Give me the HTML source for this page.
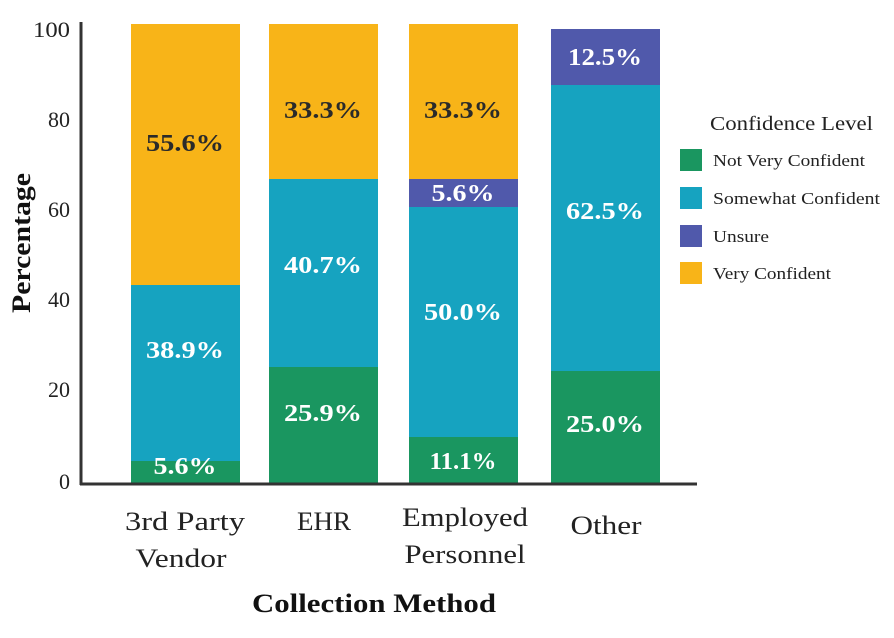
<!DOCTYPE html><html><head><style>body{margin:0;background:#fff}</style></head><body>
<svg width="894" height="633" xmlns="http://www.w3.org/2000/svg" font-family="Liberation Serif, serif">
<g>
<rect x="131" y="24" width="109" height="261" fill="#f8b418"/>
<rect x="131" y="285" width="109" height="176" fill="#16a3c0"/>
<rect x="131" y="461" width="109" height="24" fill="#1a9660"/>
<rect x="269" y="24" width="109" height="155" fill="#f8b418"/>
<rect x="269" y="179" width="109" height="188" fill="#16a3c0"/>
<rect x="269" y="367" width="109" height="118" fill="#1a9660"/>
<rect x="409" y="24" width="109" height="155" fill="#f8b418"/>
<rect x="409" y="179" width="109" height="28" fill="#5059ab"/>
<rect x="409" y="207" width="109" height="230" fill="#16a3c0"/>
<rect x="409" y="437" width="109" height="48" fill="#1a9660"/>
<rect x="551" y="29" width="109" height="56" fill="#5059ab"/>
<rect x="551" y="85" width="109" height="286" fill="#16a3c0"/>
<rect x="551" y="371" width="109" height="114" fill="#1a9660"/>
</g>
<line x1="81" y1="22" x2="81" y2="485" stroke="#333" stroke-width="3"/>
<line x1="80" y1="484" x2="697" y2="484" stroke="#333" stroke-width="3"/>
<g font-size="22" text-anchor="end" fill="#222">
<text x="70" y="37" textLength="37" lengthAdjust="spacingAndGlyphs">100</text><text x="70" y="127">80</text><text x="70" y="217">60</text>
<text x="70" y="307">40</text><text x="70" y="397">20</text><text x="70" y="489">0</text>
</g>
<g font-size="24" font-weight="bold" text-anchor="middle" lengthAdjust="spacingAndGlyphs">
<text x="185" y="151" fill="#2a2a2a" textLength="78" lengthAdjust="spacingAndGlyphs">55.6%</text>
<text x="185" y="358" fill="#fff" textLength="78" lengthAdjust="spacingAndGlyphs">38.9%</text>
<text x="185" y="474" fill="#fff" textLength="63" lengthAdjust="spacingAndGlyphs">5.6%</text>
<text x="323" y="118" fill="#2a2a2a" textLength="78" lengthAdjust="spacingAndGlyphs">33.3%</text>
<text x="323" y="273" fill="#fff" textLength="78" lengthAdjust="spacingAndGlyphs">40.7%</text>
<text x="323" y="421" fill="#fff" textLength="78" lengthAdjust="spacingAndGlyphs">25.9%</text>
<text x="463" y="118" fill="#2a2a2a" textLength="78" lengthAdjust="spacingAndGlyphs">33.3%</text>
<text x="463" y="201" fill="#fff" textLength="63" lengthAdjust="spacingAndGlyphs">5.6%</text>
<text x="463" y="320" fill="#fff" textLength="78" lengthAdjust="spacingAndGlyphs">50.0%</text>
<text x="463" y="469" fill="#fff" textLength="67" lengthAdjust="spacingAndGlyphs">11.1%</text>
<text x="605" y="65" fill="#fff" textLength="74" lengthAdjust="spacingAndGlyphs">12.5%</text>
<text x="605" y="219" fill="#fff" textLength="78" lengthAdjust="spacingAndGlyphs">62.5%</text>
<text x="605" y="432" fill="#fff" textLength="78" lengthAdjust="spacingAndGlyphs">25.0%</text>
</g>
<g font-size="26" text-anchor="middle" fill="#222">
<text x="185" y="530" textLength="120" lengthAdjust="spacingAndGlyphs">3rd Party</text><text x="181" y="567" textLength="91" lengthAdjust="spacingAndGlyphs">Vendor</text>
<text x="324" y="530" textLength="54" lengthAdjust="spacingAndGlyphs">EHR</text>
<text x="465" y="526" textLength="126" lengthAdjust="spacingAndGlyphs">Employed</text><text x="465" y="563" textLength="121" lengthAdjust="spacingAndGlyphs">Personnel</text>
<text x="606" y="534" textLength="71" lengthAdjust="spacingAndGlyphs">Other</text>
</g>
<text x="374" y="612" font-size="26" font-weight="bold" text-anchor="middle" fill="#111" textLength="244" lengthAdjust="spacingAndGlyphs">Collection Method</text>
<text transform="translate(30,243) rotate(-90)" font-size="26" font-weight="bold" text-anchor="middle" fill="#111" textLength="140" lengthAdjust="spacingAndGlyphs">Percentage</text>
<text x="710" y="130" font-size="20" fill="#222" textLength="163" lengthAdjust="spacingAndGlyphs">Confidence Level</text>
<g font-size="17" fill="#222">
<rect x="680" y="149" width="22" height="22" fill="#1a9660"/><text x="713" y="166" textLength="152" lengthAdjust="spacingAndGlyphs">Not Very Confident</text>
<rect x="680" y="187" width="22" height="22" fill="#16a3c0"/><text x="713" y="204" textLength="167" lengthAdjust="spacingAndGlyphs">Somewhat Confident</text>
<rect x="680" y="225" width="22" height="22" fill="#5059ab"/><text x="713" y="242" textLength="56" lengthAdjust="spacingAndGlyphs">Unsure</text>
<rect x="680" y="262" width="22" height="22" fill="#f8b418"/><text x="713" y="279" textLength="118" lengthAdjust="spacingAndGlyphs">Very Confident</text>
</g>
</svg>
</body></html>
